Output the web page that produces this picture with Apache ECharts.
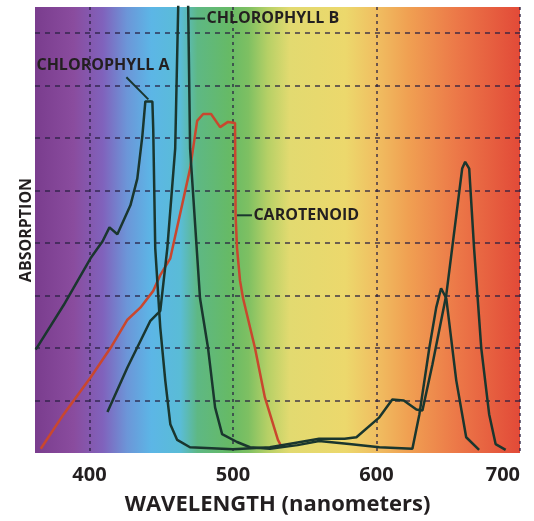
<!DOCTYPE html>
<html>
<head>
<meta charset="utf-8">
<script src="https://cdn.jsdelivr.net/npm/echarts@6/dist/echarts.min.js"></script>
<style>
  html, body { margin: 0; padding: 0; background: #fff; }
  #chart { width: 534px; height: 521px; }
</style>
</head>
<body>
<div id="chart"></div>
<script>
// wavelength (nm), absorption (relative units, 1 per gridline)
const chlorophyllA = [
  [362.5, 1.97], [382, 2.82], [400.7, 3.71], [409, 4.03], [413.9, 4.30], [419.4, 4.17],
  [428.5, 4.72], [433.3, 5.23], [436.8, 6.04], [438.9, 6.70], [443.8, 6.70], [444.4, 6.17],
  [445.8, 3.90], [449.3, 2.39], [452.8, 1.38], [456.3, 0.55], [461.1, 0.25], [470, 0.11],
  [500, 0.07], [525.7, 0.11], [545, 0.2], [560, 0.27], [577.8, 0.27], [586, 0.30],
  [602, 0.68], [611, 1.02], [619, 1.0], [627.8, 0.83], [632, 0.81], [639, 1.69],
  [648.6, 3.01], [655.6, 4.53], [659.7, 5.42], [661.8, 5.55], [664.6, 5.42], [668, 3.9],
  [673, 2.0], [678.5, 0.74], [683, 0.17], [690, 0.06]
];
const chlorophyllB = [
  [412.5, 0.78], [426.4, 1.63], [442.4, 2.52], [447.9, 2.67], [449.3, 2.71], [454.2, 3.90],
  [459.7, 5.80], [461.8, 8.5], [463, 10], [467.5, 10], [468.75, 8.5], [470.1, 5.8],
  [477, 2.95], [482.6, 2.0], [487.5, 0.87], [492.4, 0.36], [502.8, 0.21], [511.8, 0.11],
  [525.7, 0.08], [545, 0.15], [560, 0.23], [581, 0.17], [602, 0.11], [625, 0.08],
  [629.9, 0.74], [636.8, 2.0], [641.6, 2.77], [645, 3.14], [648.6, 2.95], [655.6, 1.38],
  [662.5, 0.30], [671.5, 0.06]
];
const carotenoid = [
  [366, 0.08], [382, 0.74], [400.7, 1.44], [414.6, 2.0], [426.4, 2.54], [435.4, 2.77],
  [444.4, 3.09], [449.3, 3.39], [456.3, 3.71], [470.1, 5.42], [475, 6.33], [479.2, 6.46],
  [484.7, 6.46], [491, 6.21], [496.5, 6.31], [501.4, 6.29], [501.8, 4.53], [502.8, 3.90],
  [504.9, 3.28], [507, 2.95], [515.3, 2.0], [522.2, 1.06], [531.3, 0.25], [534, 0.11]
];
const xTicks = [400, 500, 600, 700];
const yTicks = [1, 2, 3, 4, 5, 6, 7, 8];

// label anchors in data units
const labels = [
  { text: 'CHLOROPHYLL A', from: [425.7, 7.16], to: [441, 6.74], at: [363, 7.39] },
  { text: 'CHLOROPHYLL B', from: [470, 8.28], to: [480.5, 8.28], at: [481.5, 8.28] },
  { text: 'CAROTENOID', from: [502.8, 4.53], to: [513.2, 4.53], at: [514.2, 4.53] }
];

const chart = echarts.init(document.getElementById('chart'));
const font = '"Open Sans", sans-serif';
const ink = '#231f20';
const gridLine = 'rgba(40, 30, 65, 0.65)';

const spectrum = new echarts.graphic.LinearGradient(0, 0, 1, 0, [
  { offset: 0, color: '#7a3d8e' },
  { offset: 0.08, color: '#8a4c9e' },
  { offset: 0.14, color: '#8062bc' },
  { offset: 0.19, color: '#6c96d8' },
  { offset: 0.24, color: '#5cb6e6' },
  { offset: 0.30, color: '#5abcd6' },
  { offset: 0.335, color: '#5eb884' },
  { offset: 0.40, color: '#66ba66' },
  { offset: 0.44, color: '#7ec062' },
  { offset: 0.48, color: '#b6d066' },
  { offset: 0.525, color: '#e2da70' },
  { offset: 0.64, color: '#ecd86c' },
  { offset: 0.70, color: '#f0c062' },
  { offset: 0.77, color: '#f0a052' },
  { offset: 0.87, color: '#ec7848' },
  { offset: 1, color: '#e24a38' }
]);

const lineSeries = (name, data, color) => ({
  name: name,
  type: 'line',
  data: data,
  symbol: 'none',
  clip: true,
  lineStyle: { color: color, width: 2.5 },
  z: name === 'Carotenoid' ? 3 : 4
});

chart.setOption({
  animation: false,
  backgroundColor: '#fff',
  grid: {
    left: 35, right: 14, top: 7, bottom: 65,
    show: true, backgroundColor: spectrum, borderWidth: 0
  },
  xAxis: {
    type: 'value',
    min: 362,
    max: 700,
    name: 'WAVELENGTH (nanometers)',
    nameLocation: 'middle',
    nameGap: 41,
    nameTextStyle: { fontFamily: font, fontWeight: 'bold', fontSize: 22, color: ink },
    axisLine: { show: false },
    axisTick: { show: false, customValues: xTicks },
    axisLabel: {
      customValues: xTicks,
      alignMaxLabel: 'right',
      margin: 12,
      fontFamily: font, fontWeight: 'bold', fontSize: 20, color: ink
    },
    splitLine: { show: true, lineStyle: { color: gridLine, type: [3, 4], width: 2 } }
  },
  yAxis: {
    type: 'value',
    min: 0,
    max: 8.5,
    name: 'ABSORPTION',
    nameLocation: 'middle',
    nameRotate: 90,
    nameGap: 1,
    nameTextStyle: { fontFamily: font, fontWeight: 'bold', fontSize: 16, color: ink },
    axisLine: { show: false },
    axisTick: { show: false, customValues: yTicks },
    axisLabel: { show: false, customValues: yTicks },
    splitLine: { show: true, lineStyle: { color: gridLine, type: [5, 5], width: 2 } }
  },
  series: [
    lineSeries('Carotenoid', carotenoid, '#c9472e'),
    lineSeries('Chlorophyll A', chlorophyllA, '#1a362e'),
    lineSeries('Chlorophyll B', chlorophyllB, '#1a362e')
  ]
});

// annotations anchored to data coordinates
const toPx = (p) => chart.convertToPixel({ gridIndex: 0 }, p);
const elements = [];
labels.forEach((l) => {
  const a = toPx(l.from), b = toPx(l.to), t = toPx(l.at);
  elements.push({
    type: 'line', z: 10,
    shape: { x1: a[0], y1: a[1], x2: b[0], y2: b[1] },
    style: { stroke: '#1a362e', lineWidth: 2 }
  });
  elements.push({
    type: 'text', z: 11, x: t[0], y: t[1],
    style: {
      text: l.text, fill: ink, font: 'bold 16px ' + font,
      textAlign: 'left', textVerticalAlign: 'middle'
    }
  });
});
chart.setOption({ graphic: elements });
</script>
</body>
</html>
